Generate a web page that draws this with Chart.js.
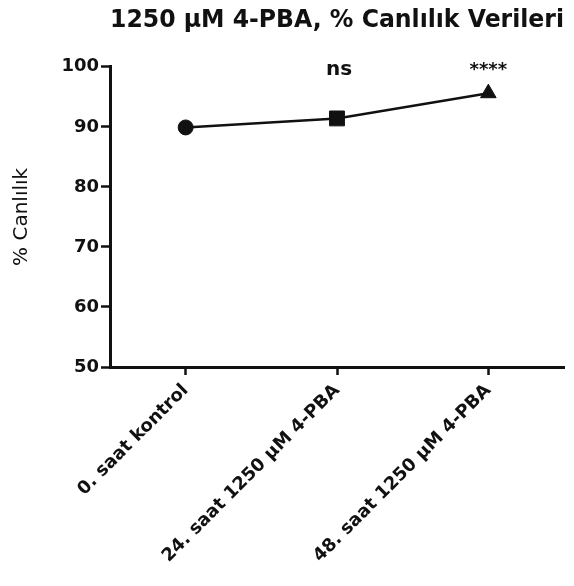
<!DOCTYPE html>
<html lang="tr">
  <head>
    <meta charset="UTF-8" />
    <title>1250 µM 4-PBA, % Canlılık Verileri</title>
    <script src="https://cdn.jsdelivr.net/npm/chart.js@4.4.1/dist/chart.umd.min.js"></script>
    <style>
      html, body { margin: 0; padding: 0; background: #fff; }
      #wrap { width: 574px; height: 586px; }
    </style>
  </head>
  <body>
    <div id="wrap"><canvas id="chart"></canvas></div>
    <script>
      // data
      const groups = ["0. saat kontrol", "24. saat 1250 µM 4-PBA", "48. saat 1250 µM 4-PBA"];
      const viability = [89.9, 91.4, 95.6];
      const significance = ["", "ns", "****"];
      const yTicks = [50, 60, 70, 80, 90, 100];

      const FONT = "'DejaVu Sans', 'Liberation Sans', Arial, sans-serif";
      const INK = "#111";

      // ns / **** above each point, at the top of the axis
      const sigPlugin = {
        id: "sigLabels",
        afterDatasetsDraw(chart) {
          const { ctx, scales } = chart;
          const top = scales.y.getPixelForValue(yTicks[yTicks.length - 1]);
          ctx.save();
          ctx.fillStyle = INK;
          ctx.textAlign = "center";
          ctx.textBaseline = "alphabetic";
          significance.forEach((txt, i) => {
            if (!txt) return;
            const x = scales.x.getPixelForValue(i);
            ctx.font = txt === "ns" ? `bold 20px ${FONT}` : `bold 18px ${FONT}`;
            ctx.fillText(txt, x + (txt === "ns" ? 2 : 0), top + 8);
          });
          ctx.restore();
        },
      };

      new Chart(document.getElementById("chart"), {
        type: "line",
        data: {
          labels: groups,
          datasets: [
            {
              data: viability,
              borderColor: INK,
              borderWidth: 2.5,
              backgroundColor: INK,
              pointBackgroundColor: INK,
              pointBorderColor: INK,
              pointStyle: ["circle", "rect", "triangle"],
              pointRadius: [7.5, 10.5, 9],
              pointBorderWidth: 1,
              tension: 0,
            },
          ],
        },
        options: {
          responsive: true,
          maintainAspectRatio: false,
          animation: false,
          layout: { padding: { left: 0, right: 8, top: 6, bottom: 0 } },
          plugins: {
            legend: { display: false },
            tooltip: { enabled: false },
            title: {
              display: true,
              text: "1250 µM 4-PBA, % Canlılık Verileri",
              fullSize: false,
              color: INK,
              font: { family: FONT, size: 24, weight: "bold" },
              padding: { top: 0, bottom: 32 },
            },
          },
          scales: {
            x: {
              offset: true,
              afterFit(scale) { scale.height = 219; },
              grid: {
                offset: false,
                drawOnChartArea: false,
                tickLength: 8,
                tickWidth: 2.5,
                tickColor: INK,
              },
              border: { color: INK, width: 3 },
              ticks: {
                color: INK,
                maxRotation: 45,
                minRotation: 45,
                padding: 5,
                font: { family: FONT, size: 18, weight: "bold" },
              },
            },
            y: {
              min: 50,
              max: 100,
              afterFit(scale) { scale.width = 110; },
              afterBuildTicks(scale) {
                scale.ticks = yTicks.map((v) => ({ value: v }));
              },
              grid: {
                drawOnChartArea: false,
                tickLength: 9,
                tickWidth: 2.5,
                tickColor: INK,
              },
              border: { color: INK, width: 3 },
              ticks: {
                color: INK,
                padding: 2,
                font: { family: FONT, size: 18, weight: "bold" },
              },
              title: {
                display: true,
                text: "% Canlılık",
                color: INK,
                padding: { top: 10, bottom: 0 },
                font: { family: FONT, size: 20, weight: "normal" },
              },
            },
          },
        },
        plugins: [sigPlugin],
      });
    </script>
  </body>
</html>
